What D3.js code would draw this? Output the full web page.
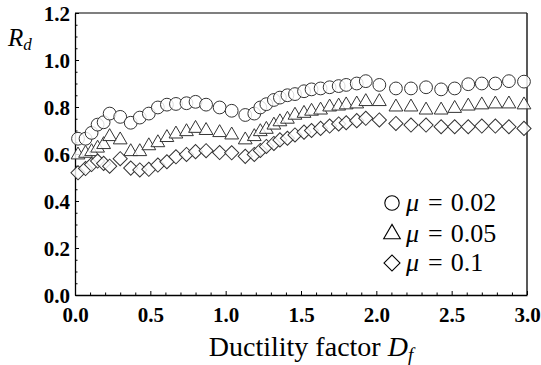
<!DOCTYPE html>
<html><head><meta charset="utf-8">
<script src="https://cdn.jsdelivr.net/npm/d3@7"></script>
</head><body style="margin:0;background:#fff">
<svg id="c" width="541" height="365" font-family="Liberation Serif"></svg>
<script>
// ---- data ----
const df = [0.02,0.07,0.11,0.15,0.19,0.23,0.30,0.37,0.43,0.49,0.55,0.61,0.67,0.74,0.80,0.87,0.96,1.04,1.13,1.19,1.23,1.27,1.32,1.36,1.41,1.46,1.52,1.57,1.63,1.69,1.75,1.80,1.87,1.93,2.02,2.13,2.23,2.33,2.43,2.52,2.61,2.70,2.79,2.88,2.98];
const mu002 = [0.665,0.665,0.690,0.725,0.735,0.772,0.758,0.733,0.755,0.772,0.798,0.810,0.813,0.816,0.822,0.810,0.798,0.784,0.766,0.772,0.798,0.812,0.830,0.840,0.850,0.855,0.867,0.875,0.879,0.884,0.889,0.894,0.900,0.910,0.894,0.879,0.879,0.884,0.875,0.879,0.897,0.900,0.900,0.910,0.908];
const mu005 = [0.596,0.603,0.610,0.625,0.640,0.674,0.660,0.610,0.610,0.635,0.648,0.670,0.685,0.695,0.709,0.700,0.691,0.681,0.660,0.674,0.695,0.705,0.723,0.737,0.748,0.765,0.773,0.782,0.787,0.800,0.804,0.809,0.813,0.823,0.823,0.800,0.800,0.787,0.787,0.794,0.804,0.809,0.813,0.813,0.809];
const mu01 = [0.520,0.538,0.555,0.570,0.560,0.548,0.580,0.540,0.532,0.535,0.553,0.567,0.588,0.598,0.610,0.614,0.606,0.605,0.590,0.598,0.615,0.632,0.645,0.660,0.667,0.681,0.693,0.700,0.709,0.719,0.728,0.733,0.742,0.752,0.745,0.730,0.723,0.723,0.716,0.716,0.716,0.719,0.719,0.716,0.709];
const xTicks = [0,0.5,1.0,1.5,2.0,2.5,3.0];
const yTicks = [0,0.2,0.4,0.6,0.8,1.0,1.2];
const legendLabels = ["0.02","0.05","0.1"];

const svg = d3.select("#c");
const L = 75, R = 527, T = 13, B = 295;
const x = d3.scaleLinear().domain([0,3]).range([L,R]);
const y = d3.scaleLinear().domain([0,1.2]).range([B,T]);
const FF = '"Liberation Serif"';
function serifText(sel){ return sel.attr("font-family","Liberation Serif").style("font-family",FF); }

// frame top/right
svg.append("line").attr("x1",L).attr("x2",R).attr("y1",T).attr("y2",T).attr("stroke","#555").attr("stroke-width",1.5);
svg.append("line").attr("x1",R).attr("x2",R).attr("y1",T).attr("y2",B).attr("stroke","#222").attr("stroke-width",1.5);

// minor ticks
const xMinor = d3.range(0,3.0001,0.1).filter(v=>Math.abs(v*2-Math.round(v*2))>1e-6);
const yMinor = d3.range(0,1.2001,0.05).filter(v=>Math.abs(v*5-Math.round(v*5))>1e-6);
svg.append("g").attr("transform",`translate(0,${B})`)
  .call(d3.axisBottom(x).tickValues(xMinor).tickSize(-2.5).tickFormat(""))
  .call(g=>g.select(".domain").remove()).selectAll("line").attr("stroke","#000");
svg.append("g").attr("transform",`translate(${L},0)`)
  .call(d3.axisLeft(y).tickValues(yMinor).tickSize(-2.5).tickFormat(""))
  .call(g=>g.select(".domain").remove()).selectAll("line").attr("stroke","#000");

// major axes
const gx = svg.append("g").attr("transform",`translate(0,${B})`)
  .call(d3.axisBottom(x).tickValues(xTicks).tickSizeInner(-4).tickSizeOuter(0).tickPadding(12).tickFormat(d3.format(".1f")));
gx.attr("font-family","Liberation Serif");
gx.select(".domain").attr("stroke","#000").attr("stroke-width",1.3);
serifText(gx.selectAll("text")).style("font-weight","bold").style("font-size","21px").attr("fill","#000");
const gy = svg.append("g").attr("transform",`translate(${L},0)`)
  .call(d3.axisLeft(y).tickValues(yTicks).tickSizeInner(-4).tickSizeOuter(0).tickPadding(5).tickFormat(d3.format(".1f")));
gy.attr("font-family","Liberation Serif");
gy.select(".domain").attr("stroke","#000").attr("stroke-width",1.3);
serifText(gy.selectAll("text")).style("font-weight","bold").style("font-size","21px").attr("fill","#000").attr("dy","0.38em");

// markers
const circ = d3.symbol().type(d3.symbolCircle).size(Math.PI*6.4*6.4);
const tri = d3.symbol().type(d3.symbolTriangle).size(82);
const sq = d3.symbol().type(d3.symbolSquare).size(100);
const series = [
  {vals:mu002, sym:circ, rot:0},
  {vals:mu005, sym:tri, rot:0},
  {vals:mu01, sym:sq, rot:45}
];
const mk = svg.append("g");
series.forEach(s=>{
  mk.append("g").selectAll("path").data(df.map((d,i)=>[d,s.vals[i]])).join("path")
    .attr("d",s.sym)
    .attr("transform",d=>`translate(${x(d[0])},${y(d[1])}) rotate(${s.rot})`)
    .attr("fill","#fff").attr("fill-opacity",0.82)
    .attr("stroke","#333").attr("stroke-width",1);
});

// legend
const lg = svg.append("g");
const lsyms = [
  d3.symbol().type(d3.symbolCircle).size(Math.PI*7.2*7.2),
  d3.symbol().type(d3.symbolTriangle).size(120),
  d3.symbol().type(d3.symbolSquare).size(128)
];
const lrot = [0,0,45];
const ly = [203,234,263];
legendLabels.forEach((lab,i)=>{
  lg.append("path").attr("d",lsyms[i]).attr("transform",`translate(392,${ly[i]}) rotate(${lrot[i]})`)
    .attr("fill","#fff").attr("stroke","#000").attr("stroke-width",1.1);
  const t = serifText(lg.append("text")).attr("x",406).attr("y",ly[i]+8).style("font-size","26px").attr("fill","#000");
  t.append("tspan").style("font-style","italic").text("μ");
  t.append("tspan").attr("dx",9).text("=");
  t.append("tspan").attr("dx",8).text(lab);
});

// axis titles
const xt = serifText(svg.append("text")).attr("x",311).attr("y",356).attr("text-anchor","middle").style("font-size","28px").attr("fill","#000");
xt.append("tspan").text("Ductility factor ");
xt.append("tspan").style("font-style","italic").text("D");
xt.append("tspan").style("font-style","italic").style("font-size","19px").attr("dy",5).text("f");

const yt = serifText(svg.append("text")).attr("x",8).attr("y",46).style("font-size","25px").attr("fill","#000");
yt.append("tspan").style("font-style","italic").text("R");
yt.append("tspan").style("font-style","italic").style("font-size","17px").attr("dy",4).text("d");
</script>
</body></html>
